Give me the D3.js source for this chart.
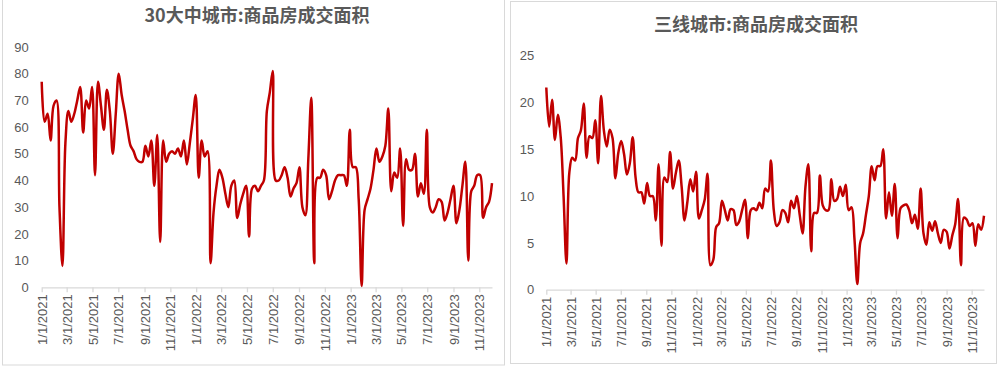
<!DOCTYPE html>
<html lang="zh">
<head>
<meta charset="UTF-8">
<title>商品房成交面积</title>
<script src="https://d3js.org/d3.v7.min.js"></script>
<style>
  body { margin: 0; background: #fff; }
  text { font-family: "Liberation Sans", Arial, sans-serif; fill: #595959; }
  .title { font-family: "Noto Sans CJK SC", sans-serif; font-size: 18px; font-weight: bold; }
</style>
</head>
<body>
<script>
// weekly series, first week 2021-01-01
var city30 = [77, 62, 65, 55, 68, 70, 30, 8, 54, 66, 62, 65, 70, 75, 58, 70, 67, 75, 42, 77,
  68, 59, 74, 66, 50, 65, 80, 72, 66, 59, 53, 51, 48, 47, 47, 53, 49, 55, 38, 57,
  17, 55, 47, 50, 51, 50, 52, 49, 55, 46, 54, 63, 72, 41, 55, 49, 51, 9, 28, 38,
  44, 41, 35, 30, 38, 40, 26, 31, 35, 38, 19, 37, 38, 36, 38, 40, 66, 73, 81, 40,
  40, 42, 45, 41, 34, 37, 39, 45, 30, 27, 48, 71, 9, 41, 41, 44, 42, 33, 36, 40,
  42, 42, 42, 38, 59, 45, 45, 33, 0.5, 29, 33, 37, 44, 52, 47, 49, 53, 67, 36, 43,
  41, 52, 23, 48, 44, 44, 50, 34, 39, 35, 59, 30, 28, 30, 33, 32, 25, 28, 33, 38,
  24, 29, 38, 47, 10, 36, 38, 42, 42, 26, 30, 32, 39];

var tier3 = [21.6, 17.4, 20.3, 16, 18.7, 16.3, 10, 2.8, 12.5, 14.1, 13.8, 16.2, 17, 19.9, 14.1, 16.4, 16.2, 18.1, 13.5, 20.7,
  17, 15.3, 17.1, 16.2, 11.9, 14.6, 15.9, 14.5, 12.3, 13.5, 16.3, 12, 10.4, 10.4, 9.2, 11.4, 10, 10, 7.4, 13.4,
  4.7, 12, 11.5, 14.7, 10.8, 12.5, 13.8, 11, 7.4, 9.4, 11.8, 10.5, 12.6, 7.6, 8.5, 9.6, 12.4, 2.6, 3.2, 6.7,
  7.1, 9.5, 8.5, 7.4, 8.6, 8.5, 6.9, 7.3, 8.5, 9.6, 5.5, 8.5, 8.7, 8.5, 9.3, 8.7, 10.8, 10.5, 13.8, 8.5,
  6.8, 7.2, 8.5, 8.2, 7.2, 9.5, 8.7, 10, 8, 6, 11, 13.4, 4.1, 8.2, 8.2, 12.2, 9, 8.5, 8.5, 11.8,
  9.5, 9.7, 11, 10, 11.2, 8.5, 8.8, 5.5, 0.6, 5, 6, 8, 10, 13.2, 11.7, 13.2, 13.2, 15, 7.6, 10.4,
  7.9, 11.3, 5.5, 8.7, 9, 9.1, 8.5, 7.1, 8, 6.5, 10.8, 6, 4.8, 7.2, 6.3, 7.3, 6, 5, 6.4, 6.2,
  4.4, 5.8, 7, 9.7, 2.6, 7.7, 7.5, 6.8, 7.1, 4.7, 7, 6.4, 7.9];

var tickDates = ["2021-01-01", "2021-03-01", "2021-05-01", "2021-07-01", "2021-09-01", "2021-11-01",
  "2022-01-01", "2022-03-01", "2022-05-01", "2022-07-01", "2022-09-01", "2022-11-01",
  "2023-01-01", "2023-03-01", "2023-05-01", "2023-07-01", "2023-09-01", "2023-11-01"];

var start = new Date(2021, 0, 1);
function weekDate(i) { return d3.timeDay.offset(start, i * 7); }
var ticks = tickDates.map(function (s) { return d3.timeParse("%Y-%m-%d")(s); });
var fmt = d3.timeFormat("%-m/%-d/%Y");

var svg = d3.select("body").append("svg")
  .attr("width", 999)
  .attr("height", 366);

// panel frames
svg.append("rect").attr("x", 2.5).attr("y", -2).attr("width", 502).attr("height", 367)
  .attr("fill", "none").attr("stroke", "#d9d9d9");
svg.append("rect").attr("x", 510.5).attr("y", 1.5).attr("width", 486).attr("height", 362)
  .attr("fill", "none").attr("stroke", "#d9d9d9");

function panel(cfg) {
  var n = cfg.values.length;
  var x = d3.scaleTime()
    .domain([start, weekDate(n - 1)])
    .range([cfg.x0, cfg.x1]);
  var y = d3.scaleLinear()
    .domain([0, cfg.max])
    .range([cfg.y0, cfg.y1]);

  svg.append("text").attr("class", "title")
    .attr("x", cfg.tx).attr("y", cfg.ty)
    .attr("text-anchor", "middle")
    .text(cfg.title);

  // y labels
  var yAxis = svg.append("g")
    .attr("transform", "translate(" + cfg.x0 + ",0)")
    .call(d3.axisLeft(y).tickValues(d3.range(0, cfg.max + 1, cfg.step)).tickSize(0).tickPadding(cfg.pad));
  yAxis.select(".domain").remove();
  yAxis.selectAll("text").attr("font-size", 13).attr("font-family", null).attr("fill", "#595959");

  // x axis
  var xAxis = svg.append("g")
    .attr("transform", "translate(0," + cfg.y0 + ")")
    .call(d3.axisBottom(x).tickValues(ticks).tickFormat(fmt).tickSize(5).tickSizeOuter(0));
  xAxis.select(".domain").attr("stroke", "#d9d9d9").attr("stroke-width", 1.3);
  xAxis.selectAll(".tick line").attr("stroke", "#d9d9d9").attr("stroke-width", 1.3);
  xAxis.selectAll(".tick text")
    .attr("font-size", 13).attr("font-family", null).attr("fill", "#595959")
    .attr("text-anchor", "end")
    .attr("y", 0).attr("x", -7).attr("dy", "0.35em")
    .attr("transform", "rotate(-90)");

  var line = d3.line()
    .x(function (d, i) { return x(weekDate(i)); })
    .y(function (d) { return y(d); })
    .curve(d3.curveCatmullRom.alpha(0.5));

  svg.append("path")
    .datum(cfg.values)
    .attr("d", line)
    .attr("fill", "none")
    .attr("stroke", "#c00000")
    .attr("stroke-width", 2.5)
    .attr("stroke-linejoin", "round");
}

panel({ values: city30, max: 90, step: 10, x0: 41.7, x1: 492, y0: 287.3, y1: 47, pad: 13,
  title: "30大中城市:商品房成交面积", tx: 257, ty: 22 });
panel({ values: tier3, max: 25, step: 5, x0: 546.3, x1: 984, y0: 289.7, y1: 55.7, pad: 12,
  title: "三线城市:商品房成交面积", tx: 756, ty: 31 });
</script>
</body>
</html>
